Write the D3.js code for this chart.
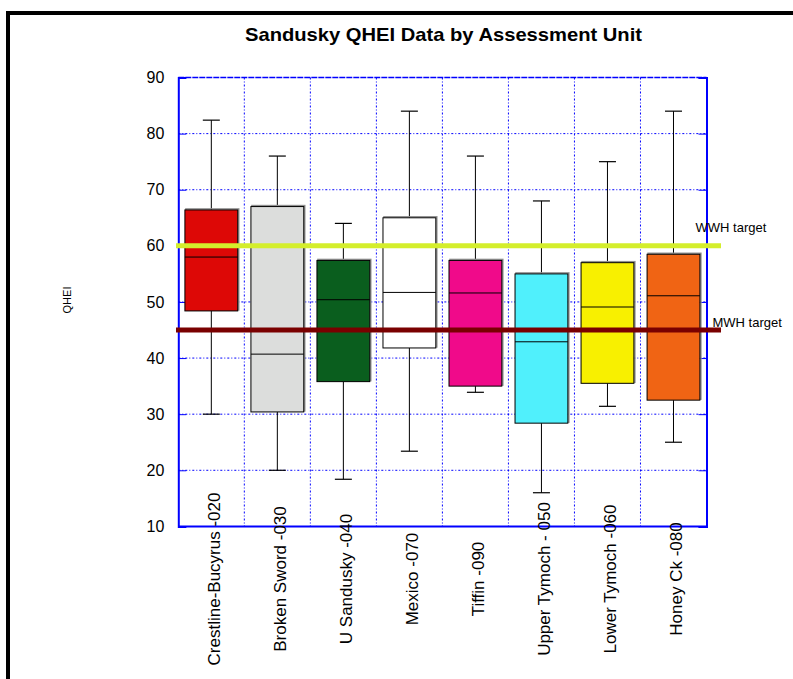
<!DOCTYPE html>
<html><head><meta charset="utf-8">
<script src="https://cdn.jsdelivr.net/npm/d3@7"></script>
<style>body{margin:0;background:#fff;} svg{display:block;font-family:"Liberation Sans",Arial,sans-serif;}</style>
</head><body>
<svg id="c" width="793" height="679"></svg>
<script>
const categories = ["Crestline-Bucyrus -020","Broken Sword -030","U Sandusky -040","Mexico -070","Tiffin -090","Upper Tymoch - 050","Lower Tymoch -060","Honey Ck -080"];
const whiskerLow  = [30.0, 20.0, 18.4, 23.4, 33.9, 16.0, 31.4, 25.0];
const q1          = [48.4, 30.4, 35.8, 41.8, 35.0, 28.4, 35.5, 32.5];
const median      = [58.0, 40.7, 50.4, 51.7, 51.6, 42.9, 49.1, 51.1];
const q3          = [66.4, 67.0, 57.4, 65.0, 57.4, 55.0, 57.0, 58.5];
const whiskerHigh = [82.4, 76.0, 64.0, 84.0, 76.0, 68.0, 75.0, 84.0];
const boxColors   = ["#dd0806","#dcdddc","#0a5e1e","#ffffff","#f00a8a","#50f0fc","#f8f000","#f06414"];
const yTicks = [10,20,30,40,50,60,70,80,90];
const targets = [{name:"WWH target", value:60, color:"#d4ee2c"},{name:"MWH target", value:45, color:"#7a0000"}];

const svg = d3.select("#c");
const L = 178.3, R = 706.5, T = 77.5, B = 526.4;
const x = d3.scaleBand().domain(categories).range([L, R]).paddingInner(0).paddingOuter(0);
const y = d3.scaleLinear().domain([10, 90]).range([B, T]);

// outer frame
svg.append("rect").attr("x", 8).attr("y", 13).attr("width", 1000).attr("height", 1000)
  .attr("fill", "none").attr("stroke", "#000").attr("stroke-width", 4);

// title
svg.append("text").attr("x", 443.5).attr("y", 41).attr("text-anchor", "middle")
  .attr("font-size", 19).attr("font-weight", "bold").attr("textLength", 397).attr("lengthAdjust","spacingAndGlyphs")
  .text("Sandusky QHEI Data by Assessment Unit");

// grid
const grid = svg.append("g").attr("stroke", "#0000ff").attr("stroke-width", 1).attr("stroke-dasharray", "2,2,1,2");
grid.selectAll("line.h").data(yTicks.slice(1, -1)).join("line")
  .attr("x1", L).attr("x2", R).attr("y1", d => y(d)).attr("y2", d => y(d));
grid.selectAll("line.v").data(categories.slice(1)).join("line")
  .attr("x1", d => x(d)).attr("x2", d => x(d)).attr("y1", T).attr("y2", B);
svg.append("line").attr("x1", L).attr("x2", R).attr("y1", T).attr("y2", T)
  .attr("stroke", "#0000ff").attr("stroke-width", 1.5).attr("stroke-dasharray", "6,1");

// axes
const yAxisL = d3.axisLeft(y).tickValues(yTicks).tickSize(-8).tickPadding(14).tickFormat(d3.format("d"));
const gL = svg.append("g").attr("transform", `translate(${L},0)`).call(yAxisL);
gL.select(".domain").attr("stroke", "#0000ff").attr("stroke-width", 2);
gL.selectAll(".tick line").attr("stroke", "#0000ff");
gL.selectAll(".tick text").attr("font-size", 16).attr("fill", "#000").attr("font-family", "Liberation Sans, Arial, sans-serif");
const gR = svg.append("g").attr("transform", `translate(${R},0)`).call(d3.axisRight(y).tickValues(yTicks).tickSize(-8).tickFormat(""));
gR.select(".domain").attr("stroke", "#0000ff").attr("stroke-width", 2);
gR.selectAll(".tick line").attr("stroke", "#0000ff");
svg.append("line").attr("x1", L).attr("x2", R).attr("y1", B).attr("y2", B).attr("stroke", "#0000ff").attr("stroke-width", 2);

// y title
svg.append("text").attr("transform", "translate(71,300) rotate(-90)").attr("text-anchor", "middle")
  .attr("font-size", 11).text("QHEI");

// boxes
const bw = x.bandwidth() * 0.8, cap = 17;
const idx = d3.range(categories.length);
const bg = svg.append("g");
idx.forEach(i => {
  const cx = x(categories[i]) + x.bandwidth() / 2;
  const g = bg.append("g");
  g.append("line").attr("x1", cx).attr("x2", cx).attr("y1", y(q3[i])).attr("y2", y(whiskerHigh[i])).attr("stroke", "#000");
  g.append("line").attr("x1", cx).attr("x2", cx).attr("y1", y(q1[i])).attr("y2", y(whiskerLow[i])).attr("stroke", "#000");
  g.append("line").attr("x1", cx - cap/2).attr("x2", cx + cap/2).attr("y1", y(whiskerHigh[i])).attr("y2", y(whiskerHigh[i])).attr("stroke", "#000").attr("stroke-width", 1.2);
  g.append("line").attr("x1", cx - cap/2).attr("x2", cx + cap/2).attr("y1", y(whiskerLow[i])).attr("y2", y(whiskerLow[i])).attr("stroke", "#000").attr("stroke-width", 1.2);
  g.append("rect").attr("x", cx - bw/2 + 1).attr("y", y(q3[i]) - 1).attr("width", bw).attr("height", y(q1[i]) - y(q3[i]))
    .attr("fill", "none").attr("stroke", "#909090").attr("stroke-width", 1.5);
  g.append("rect").attr("x", cx - bw/2).attr("y", y(q3[i])).attr("width", bw).attr("height", y(q1[i]) - y(q3[i]))
    .attr("fill", boxColors[i]).attr("stroke", "#000").attr("stroke-width", 1);
  g.append("line").attr("x1", cx - bw/2).attr("x2", cx + bw/2).attr("y1", y(median[i])).attr("y2", y(median[i])).attr("stroke", "#000");
});

// target lines
targets.forEach((t, k) => {
  svg.append("line").attr("x1", 176).attr("x2", 721).attr("y1", y(t.value)).attr("y2", y(t.value))
    .attr("stroke", t.color).attr("stroke-width", 5);
});
svg.append("text").attr("x", 695.5).attr("y", y(targets[0].value) - 14).attr("font-size", 13).text(targets[0].name);
svg.append("text").attr("x", 712.5).attr("y", y(targets[1].value) - 3).attr("font-size", 13).text(targets[1].name);

// category labels
svg.append("g").selectAll("text").data(categories).join("text")
  .attr("transform", d => `translate(${x(d) + x.bandwidth()/2 + 9},579) rotate(-90)`)
  .attr("text-anchor", "middle").attr("font-size", 17).text(d => d);
</script>
</body></html>
